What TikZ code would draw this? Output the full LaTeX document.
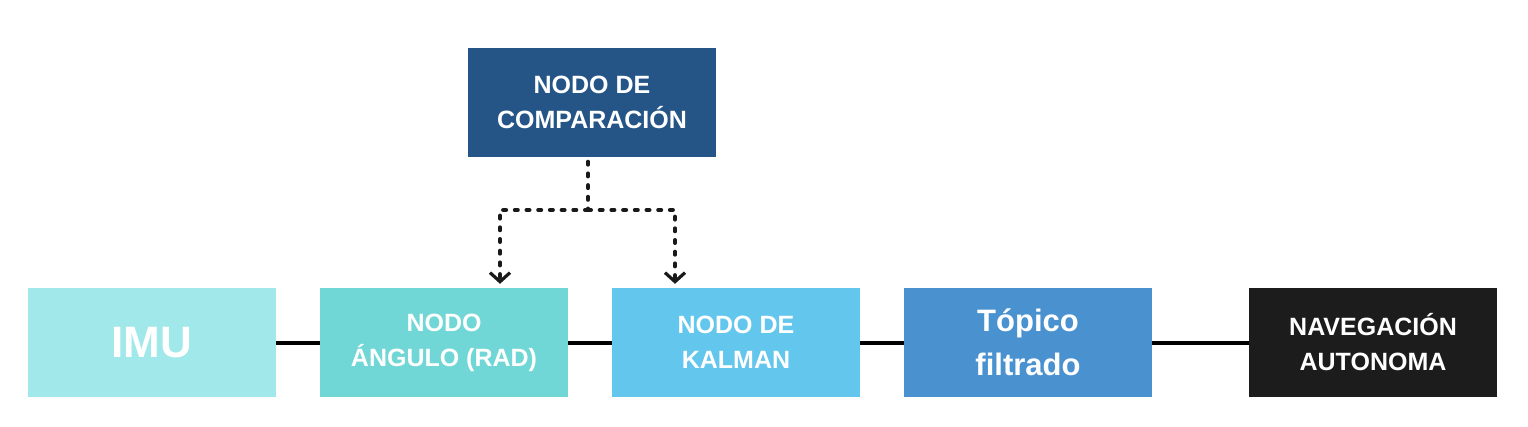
\documentclass[tikz,border=0pt]{standalone}
\usepackage{fontspec}
\setmainfont{Liberation Sans}
\usepackage{tikz}
\usetikzlibrary{scopes,arrows.meta}
\definecolor{imuc}{HTML}{A0E8E9}
\definecolor{angc}{HTML}{70D7D6}
\definecolor{kalc}{HTML}{63C6EC}
\definecolor{topc}{HTML}{4A91D0}
\definecolor{navc}{HTML}{1C1C1C}
\definecolor{cmpc}{HTML}{255587}

\begin{document}
\begin{tikzpicture}[
    x=1pt,y=-1pt,
    blk/.style={rectangle,draw=none,minimum width=248pt,minimum height=109pt,inner sep=0pt,
        align=center,text=white,font=\bfseries\fontsize{25}{35}\selectfont},
    link/.style={draw=black,line width=4pt},
    flow/.style={draw=black!90,line width=4pt,line cap=round,dash pattern=on 3pt off 8.7pt,
        -{Straight Barb[length=9pt,width=20pt,line width=3.2pt]}},
]
    \useasboundingbox[fill=white] (0,0) rectangle (1528,426);
    \node[blk,fill=imuc,font=\bfseries\fontsize{44}{50}\selectfont] (imu) at (152,342.5) {IMU};
    \node[blk,fill=angc] (ang) at (444,342.5) {NODO\\ÁNGULO (RAD)};
    \node[blk,fill=kalc] (kal) at (736,342.5) {NODO DE\\KALMAN};
    \node[blk,fill=topc,font=\bfseries\fontsize{31}{44}\selectfont] (top) at (1028,342.5) {Tópico\\filtrado};
    \node[blk,fill=navc] (nav) at (1373,342.5) {NAVEGACIÓN\\AUTONOMA};
    \node[blk,fill=cmpc] (cmp) at (592,102) {NODO DE\\COMPARACIÓN};
    % enlaces
    {[link]
        \draw (imu.east) -- (ang.west);
        \draw (ang.east) -- (kal.west);
        \draw (kal.east) -- (top.west);
        \draw (top.east) -- (nav.west);
    }
    % comparacion
    \coordinate (split) at (588,210);
    {[flow]
        \draw[-] ([xshift=-4pt,yshift=-5pt]cmp.south) -- (split);
        \draw (split) -| ([xshift=56pt,yshift=4pt]ang.north);
        \draw (split) -| ([xshift=-61pt,yshift=4pt]kal.north);
    }
\end{tikzpicture}
\end{document}
